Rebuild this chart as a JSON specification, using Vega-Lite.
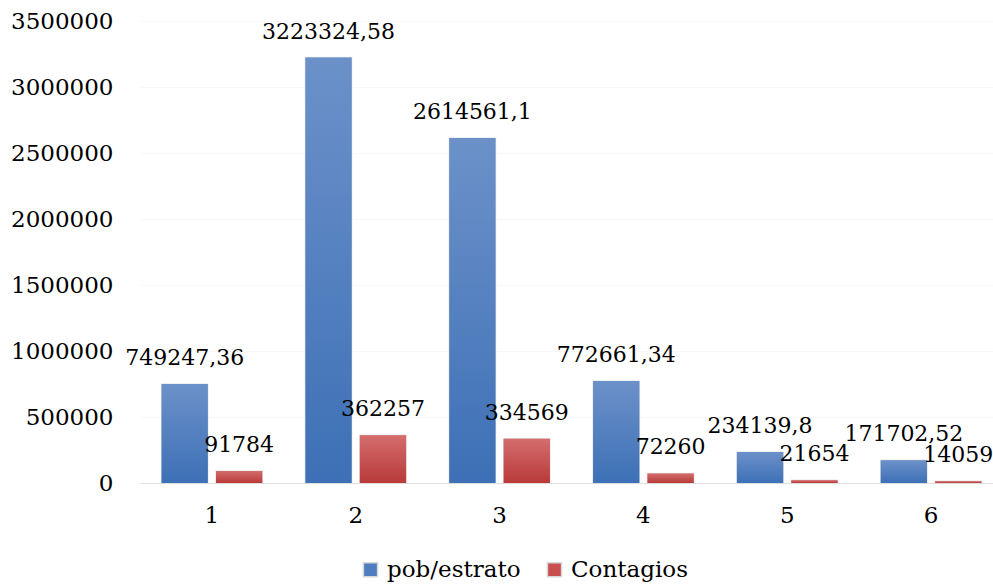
{
  "$schema": "https://vega.github.io/schema/vega-lite/v6.json",
  "width": 863,
  "height": 462,
  "padding": {"left": 10, "top": 10, "right": 0, "bottom": 0},
  "background": "white",
  "config": {
    "view": {"stroke": null},
    "font": "DejaVu Serif",
    "axis": {"labelFont": "DejaVu Serif", "labelFontSize": 23, "labelColor": "#000000"}
  },
  "data": {
    "values": [
      {"estrato": "1", "serie": "pob/estrato", "valor": 749247.36, "label": "749247,36"},
      {"estrato": "1", "serie": "Contagios", "valor": 91784, "label": "91784"},
      {"estrato": "2", "serie": "pob/estrato", "valor": 3223324.58, "label": "3223324,58"},
      {"estrato": "2", "serie": "Contagios", "valor": 362257, "label": "362257"},
      {"estrato": "3", "serie": "pob/estrato", "valor": 2614561.1, "label": "2614561,1"},
      {"estrato": "3", "serie": "Contagios", "valor": 334569, "label": "334569"},
      {"estrato": "4", "serie": "pob/estrato", "valor": 772661.34, "label": "772661,34"},
      {"estrato": "4", "serie": "Contagios", "valor": 72260, "label": "72260"},
      {"estrato": "5", "serie": "pob/estrato", "valor": 234139.8, "label": "234139,8"},
      {"estrato": "5", "serie": "Contagios", "valor": 21654, "label": "21654"},
      {"estrato": "6", "serie": "pob/estrato", "valor": 171702.52, "label": "171702,52"},
      {"estrato": "6", "serie": "Contagios", "valor": 14059, "label": "14059"}
    ]
  },
  "encoding": {
    "x": {
      "field": "estrato", "type": "nominal",
      "scale": {"paddingInner": 0.3, "paddingOuter": 0.15},
      "axis": {"title": null, "labelAngle": 0, "ticks": false, "domainColor": "#e0e0e0", "domainWidth": 1, "labelPadding": 21}
    },
    "xOffset": {
      "field": "serie", "type": "nominal",
      "scale": {"domain": ["pob/estrato", "Contagios"], "paddingInner": 0.15, "paddingOuter": 0}
    },
    "y": {
      "field": "valor", "type": "quantitative",
      "scale": {"domain": [0, 3500000]},
      "axis": {"title": null, "values": [0, 500000, 1000000, 1500000, 2000000, 2500000, 3000000, 3500000], "format": "d", "ticks": false, "domain": false, "labelPadding": 27, "grid": true, "gridColor": "#f8f8f8", "gridWidth": 1}
    }
  },
  "layer": [
    {
      "mark": {"type": "bar", "stroke": "#d8d8d8", "strokeWidth": 1.5, "strokeOpacity": 0.6},
      "encoding": {
        "color": {
          "field": "serie", "type": "nominal",
          "scale": {"domain": ["pob/estrato", "Contagios"], "range": ["#4f7ec0", "#c94f4f"]},
          "legend": {
            "title": null, "orient": "none", "direction": "horizontal",
            "legendX": 219, "legendY": 537,
            "symbolType": "square", "symbolSize": 200,
            "labelFont": "DejaVu Serif", "labelFontSize": 23, "labelColor": "#000000",
            "columnPadding": 22, "labelOffset": 5
          }
        }
      }
    },
    {
      "transform": [{"filter": "datum.serie === 'pob/estrato'"}],
      "mark": {"type": "bar", "fill": {"gradient": "linear", "x1": 0, "y1": 0, "x2": 0, "y2": 1, "stops": [{"offset": 0, "color": "#6c91c9"}, {"offset": 1, "color": "#3d70b6"}]}}
    },
    {
      "transform": [{"filter": "datum.serie === 'Contagios'"}],
      "mark": {"type": "bar", "fill": {"gradient": "linear", "x1": 0, "y1": 0, "x2": 0, "y2": 1, "stops": [{"offset": 0, "color": "#d46d6d"}, {"offset": 1, "color": "#b93a3a"}]}}
    },
    {
      "mark": {"type": "text", "baseline": "alphabetic", "dy": -19, "fontSize": 22, "font": "DejaVu Serif", "color": "#000000"},
      "encoding": {"text": {"field": "label"}}
    }
  ]
}
